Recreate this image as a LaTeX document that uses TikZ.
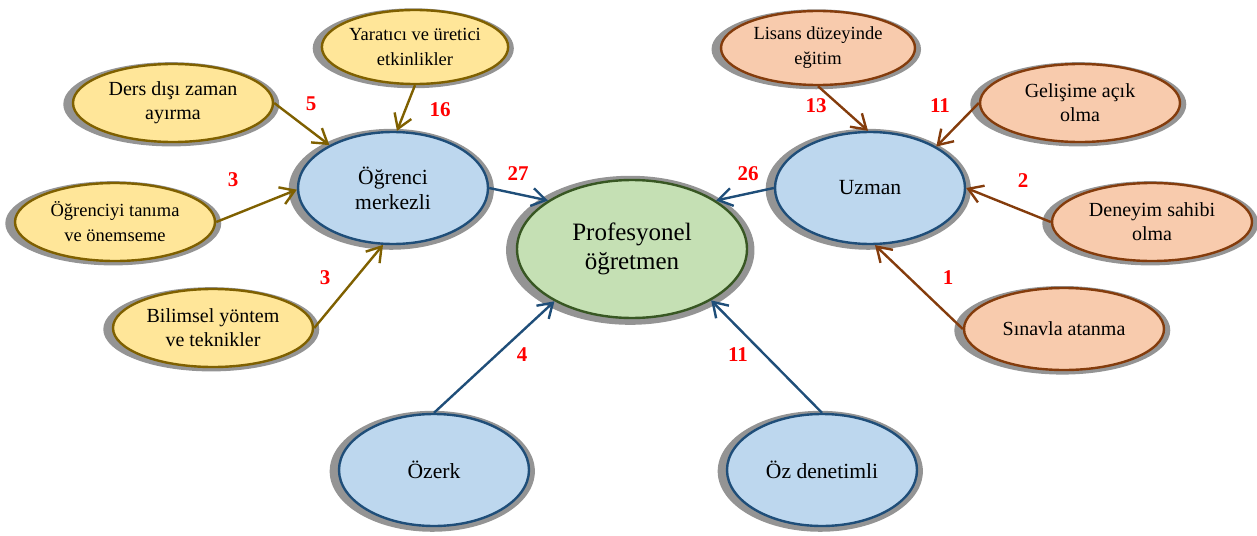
\documentclass[tikz,border=0pt]{standalone}
\usepackage{fontspec}
\setmainfont{Liberation Serif}
\usetikzlibrary{shapes.geometric}
\usetikzlibrary{shadows}
\usetikzlibrary{arrows.meta}

\definecolor{yelfill}{HTML}{FFE699}
\definecolor{yeldraw}{HTML}{7F6000}
\definecolor{orafill}{HTML}{F8CBAD}
\definecolor{oradraw}{HTML}{843C0C}
\definecolor{blufill}{HTML}{BDD7EE}
\definecolor{bludraw}{HTML}{1F4E79}
\definecolor{grnfill}{HTML}{C5E0B4}
\definecolor{grndraw}{HTML}{385723}

\begin{document}
\begin{tikzpicture}[x=0.5pt,y=-0.5pt,
  bub/.style={ellipse,draw,line width=1.2pt,inner sep=0pt,align=center,
    drop shadow={shadow xshift=-0.8pt,shadow yshift=-0.6pt,shadow scale=1.08,fill=black!42,opacity=1}},
  big/.style={font=\fontsize{10}{12}\selectfont,minimum width=100pt,minimum height=39pt},
  sml/.style={font=\fontsize{9.25}{12.5}\selectfont,minimum width=86pt,minimum height=37pt},
  yel/.style={bub,fill=yelfill,draw=yeldraw},
  ora/.style={bub,fill=orafill,draw=oradraw},
  blu/.style={bub,fill=blufill,draw=bludraw,minimum width=95pt,minimum height=56pt,
    font=\fontsize{10.8}{12.5}\selectfont},
  num/.style={text=red,font=\fontsize{10.5}{12}\selectfont\bfseries},
  arr/.style={-{Straight Barb[length=7pt,width=9pt]},line width=1.2pt}]
  \useasboundingbox (0,0) rectangle (1257,535);

  % main nodes
  \node[bub,fill=grnfill,draw=grndraw,minimum width=115pt,minimum height=69pt,
    font=\fontsize{12.5}{14.5}\selectfont] (prof) at (632,249) {Profesyonel\\öğretmen};
  \node[blu] (ogr) at (393,188) {Öğrenci\\merkezli};
  \node[blu] (uzm) at (870,188) {Uzman};
  \node[blu] (ozk) at (434,470) {Özerk};
  \node[blu] (ozd) at (822,470) {Öz denetimli};

  % left group
  \node[yel,sml,minimum width=85pt] (yar) at (415,47) {Yaratıcı ve üretici\\etkinlikler};
  \node[yel,big] (ders) at (173,103) {Ders dışı zaman\\ayırma};
  \node[yel,sml,minimum width=100pt,minimum height=39pt] (tan) at (115,222) {Öğrenciyi tanıma\\ve önemseme};
  \node[yel,big] (bil) at (213,328) {Bilimsel yöntem\\ve teknikler};

  % right group
  \node[ora,sml,minimum width=97pt] (lis) at (818,48) {Lisans düzeyinde\\eğitim};
  \node[ora,big] (gel) at (1080,103) {Gelişime açık\\olma};
  \node[ora,big] (den) at (1152,222) {Deneyim sahibi\\olma};
  \node[ora,big,minimum height=41pt] (sin) at (1064,329) {Sınavla atanma};

  \path[arr,color=yeldraw]
    (ders.east) edge (ogr.146)
    (tan.east)  edge (ogr.181)
    (bil.east)  edge (ogr.260)
    (yar.south) edge (ogr.86);
  \path[arr,color=oradraw]
    (lis.south) edge (uzm.92)
    (gel.west)  edge (uzm.32)
    (den.west)  edge (uzm.east)
    (sin.west)  edge (uzm.275);
  \path[arr,color=bludraw]
    (ogr.east)  edge (prof.150)
    (uzm.west)  edge (prof.30)
    (ozk.north) edge (prof.214)
    (ozd.north) edge (prof.327);

  % counts
  \node[num] (n5)  at (311,104) {5};
  \node[num] (n16) at (440,110) {16};
  \node[num] (n3a) at (233,180) {3};
  \node[num] (n3b) at (325,278) {3};
  \node[num] (n27) at (518,174) {27};
  \node[num] (n26) at (748,174) {26};
  \node[num] (n13) at (816,106) {13};
  \node[num] (n11a) at (940,106) {11};
  \node[num] (n2)  at (1023,181) {2};
  \node[num] (n1)  at (948,278) {1};
  \node[num] (n4)  at (522,355) {4};
  \node[num] (n11b) at (738,355) {11};
\end{tikzpicture}
\end{document}
